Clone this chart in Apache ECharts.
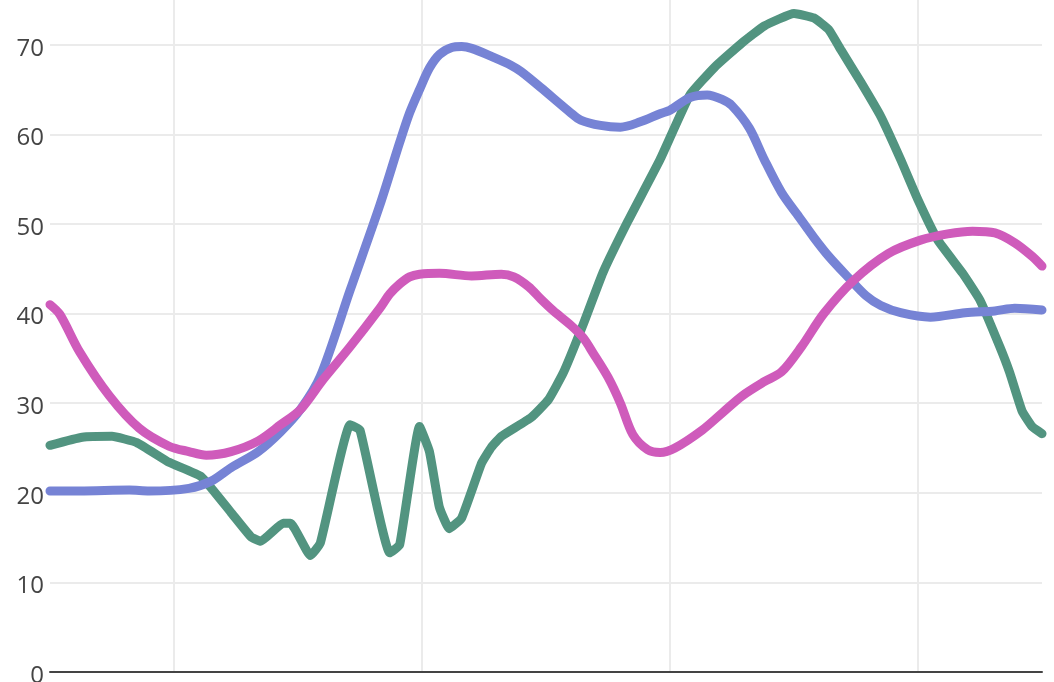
<!DOCTYPE html>
<html>
<head>
<meta charset="utf-8">
<script src="https://cdn.jsdelivr.net/npm/echarts@6/dist/echarts.min.js"></script>
<style>
html,body{margin:0;padding:0;background:#fff;}
#chart{width:1054px;height:682px;}
</style>
</head>
<body>
<div id="chart"></div>
<script>
// x positions in axis units (vertical gridlines at 10, 20, 30, 40)
const greenX = [5.0,6.3,7.5,8.5,9.8,11.1,12.3,13.1,13.5,14.4,14.7,15.5,15.9,17.1,17.5,18.7,19.1,19.9,20.3,20.7,21.1,21.6,22.4,22.8,23.2,24.4,25.1,25.7,26.5,27.3,28.3,29.6,30.8,31.8,32.9,33.8,35.0,35.8,36.4,36.9,37.7,38.5,39.3,40.0,40.8,41.8,42.5,43.3,43.7,44.2,44.6,45.0];
const greenY = [25.3,26.2,26.3,25.6,23.4,21.8,17.8,15.1,14.6,16.6,16.6,13.0,14.4,27.6,27.0,13.3,14.2,27.4,24.6,18.4,16.0,17.2,23.3,25.1,26.3,28.4,30.4,33.4,38.8,44.6,50.3,57.2,64.4,67.5,70.2,72.1,73.5,73.0,71.7,69.4,65.8,62.0,57.2,52.7,48.2,44.5,41.5,36.3,33.4,29.1,27.4,26.6];

const blueX = [5.0,6.2,8.2,9.0,10.6,11.5,12.3,13.4,14.3,15.1,15.9,17.1,18.3,19.1,19.5,19.9,20.3,20.7,21.2,21.6,22.0,22.8,23.6,24.0,24.8,26.0,26.4,27.2,28.0,28.8,29.6,30.0,30.8,31.5,32.1,32.5,33.2,33.8,34.5,35.2,35.8,36.4,37.2,37.9,38.5,39.3,40.5,41.9,43.1,43.9,45.0];
const blueY = [20.2,20.2,20.3,20.2,20.5,21.3,22.8,24.6,26.8,29.3,33.0,42.6,52.1,59.1,62.4,65.0,67.4,68.9,69.7,69.8,69.6,68.7,67.7,67.0,65.2,62.4,61.6,61.0,60.8,61.4,62.3,62.7,64.1,64.4,63.9,63.2,60.7,57.2,53.5,50.8,48.5,46.4,44.0,42.0,40.9,40.1,39.6,40.1,40.3,40.6,40.4];

const pinkX = [5.0,5.4,6.2,7.4,8.6,9.8,10.6,11.3,12.3,13.4,14.3,15.1,16.0,17.1,18.3,18.7,19.1,19.5,19.9,20.7,22.0,23.2,23.7,24.3,24.8,25.3,26.0,26.5,26.9,27.5,28.0,28.5,29.1,29.6,30.2,31.3,32.1,32.9,33.8,34.5,35.3,36.2,37.4,38.8,40.1,41.2,42.2,43.1,43.9,44.6,45.0];
const pinkY = [41.0,39.9,35.7,30.8,27.2,25.2,24.6,24.2,24.6,25.8,27.6,29.3,32.6,36.3,40.6,42.2,43.3,44.1,44.4,44.5,44.2,44.4,44.1,43.0,41.6,40.3,38.7,37.3,35.6,32.9,30.0,26.5,24.8,24.5,25.0,27.0,28.9,30.8,32.4,33.5,36.3,40.0,43.7,46.7,48.2,48.9,49.2,49.0,47.9,46.4,45.3];

const yTicks = [0,10,20,30,40,50,60,70];

function pairs(xs, ys){ return xs.map((x,i)=>[x, ys[i]]); }

const chart = echarts.init(document.getElementById('chart'), null, {renderer:'canvas'});
function ls(color){ return {color: color, width: 9, cap: 'round', join: 'round'}; }
chart.setOption({
  animation: false,
  backgroundColor: '#ffffff',
  grid: {left: 50, right: 12, top: 0, bottom: 10, containLabel: false, outerBoundsMode: 'none'},
  xAxis: {
    type: 'value', min: 5, max: 45, splitNumber: 4,
    axisLabel: {show: false},
    axisTick: {show: false},
    axisLine: {show: true, onZero: false, lineStyle: {color: '#444', width: 2}},
    splitLine: {show: true, showMinLine: false, showMaxLine: false, lineStyle: {color: '#ebebeb', width: 2}}
  },
  yAxis: {
    type: 'value', min: 0, max: 75, interval: 10,
    axisLine: {show: false},
    axisTick: {show: false},
    axisLabel: {
      color: '#444', fontSize: 24, fontFamily: 'Open Sans', margin: 6,
      verticalAlign: 'top', lineHeight: 8,
      showMaxLabel: false,
      formatter: v => yTicks.includes(v) ? String(v) : ''
    },
    splitLine: {show: true, showMaxLine: false, lineStyle: {color: '#ebebeb', width: 2}}
  },
  series: [
    {type: 'line', data: pairs(greenX, greenY), showSymbol: false, symbol: 'none', smooth: 0.12,
     lineStyle: ls('#529480'), itemStyle: {color: '#529480'}},
    {type: 'line', data: pairs(blueX, blueY), showSymbol: false, symbol: 'none', smooth: 0.3,
     lineStyle: ls('#7683d5'), itemStyle: {color: '#7683d5'}},
    {type: 'line', data: pairs(pinkX, pinkY), showSymbol: false, symbol: 'none', smooth: 0.3,
     lineStyle: ls('#cf5bbb'), itemStyle: {color: '#cf5bbb'}}
  ]
});
</script>
</body>
</html>
